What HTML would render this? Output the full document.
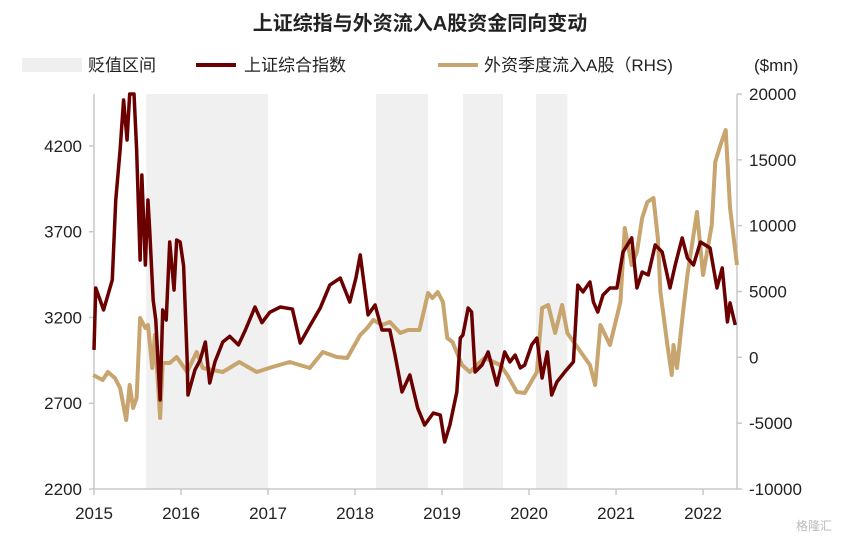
<!DOCTYPE html>
<html><head><meta charset="utf-8"><style>
body{margin:0;background:#fff;width:841px;height:542px;overflow:hidden}
svg{font-family:"Liberation Sans","Noto Sans CJK SC",sans-serif}
</style></head><body>
<svg id="c" width="841" height="542">
<text x="420" y="30" text-anchor="middle" font-size="20" font-weight="bold" fill="#222">上证综指与外资流入A股资金同向变动</text>
<g>
<rect x="22" y="58" width="60" height="14" fill="#efefef"/>
<text x="88" y="71" font-size="17" fill="#222">贬值区间</text>
<line x1="196" y1="65" x2="236" y2="65" stroke="#6b0000" stroke-width="4"/>
<text x="244" y="71" font-size="17" fill="#222">上证综合指数</text>
<line x1="438" y1="65" x2="478" y2="65" stroke="#c8a46e" stroke-width="4"/>
<text x="484" y="71" font-size="17" fill="#222">外资季度流入A股（RHS)</text>
<text x="754" y="71" font-size="17" fill="#222">($mn)</text>
</g>
<g id="plot"></g>
<text x="832" y="530" text-anchor="end" font-size="12" fill="#bbb">格隆汇</text>
</svg>
<script>
const shadeStarts=[2015.6,2018.24,2019.24,2020.08];
const shadeEnds=[2017.0,2018.84,2019.7,2020.44];
const leftTicks=[2200,2700,3200,3700,4200];
const rightTicks=[-10000,-5000,0,5000,10000,15000,20000];
const yearTicks=[2015,2016,2017,2018,2019,2020,2021,2022];
const idxDates=[2015.00,2015.02,2015.07,2015.11,2015.16,2015.21,2015.25,2015.30,2015.34,2015.38,2015.41,2015.46,2015.49,2015.53,2015.55,2015.59,2015.62,2015.64,2015.68,2015.71,2015.76,2015.79,2015.83,2015.87,2015.92,2015.95,2015.99,2016.03,2016.07,2016.08,2016.16,2016.22,2016.28,2016.33,2016.39,2016.48,2016.56,2016.66,2016.74,2016.85,2016.93,2017.02,2017.14,2017.28,2017.37,2017.48,2017.60,2017.71,2017.83,2017.94,2018.01,2018.06,2018.15,2018.23,2018.31,2018.40,2018.46,2018.54,2018.63,2018.72,2018.80,2018.90,2018.98,2019.03,2019.09,2019.17,2019.21,2019.24,2019.30,2019.34,2019.38,2019.46,2019.53,2019.63,2019.72,2019.78,2019.84,2019.90,2019.95,2020.03,2020.09,2020.15,2020.21,2020.26,2020.32,2020.41,2020.51,2020.56,2020.62,2020.70,2020.74,2020.79,2020.85,2020.93,2021.01,2021.08,2021.18,2021.24,2021.30,2021.37,2021.45,2021.53,2021.62,2021.68,2021.76,2021.82,2021.89,2021.97,2022.08,2022.16,2022.22,2022.28,2022.31,2022.37];
const idxValues=[3011,3372,3302,3244,3331,3419,3885,4177,4468,4235,4503,4503,4177,3535,4031,3506,3885,3710,3302,3185,2719,3244,3185,3640,3360,3652,3640,3500,2964,2748,2894,2952,3057,2818,2941,3057,3090,3040,3127,3261,3170,3230,3261,3249,3051,3150,3255,3389,3430,3290,3430,3565,3215,3273,3127,3127,2981,2766,2865,2672,2573,2643,2631,2474,2573,2766,3080,3098,3255,3232,2882,2923,2999,2806,2999,2941,2981,2906,2923,3040,3080,2847,2999,2748,2824,2882,2941,3389,3349,3407,3290,3232,3331,3372,3372,3582,3664,3372,3465,3448,3623,3582,3372,3506,3664,3547,3506,3640,3605,3372,3489,3174,3285,3156];
const flowDates=[2014.99,2015.10,2015.16,2015.24,2015.30,2015.37,2015.41,2015.45,2015.49,2015.53,2015.59,2015.62,2015.67,2015.70,2015.76,2015.79,2015.87,2015.95,2016.07,2016.18,2016.25,2016.36,2016.48,2016.67,2016.87,2017.05,2017.25,2017.48,2017.63,2017.79,2017.91,2018.06,2018.14,2018.21,2018.31,2018.40,2018.52,2018.61,2018.74,2018.84,2018.89,2018.95,2019.01,2019.06,2019.12,2019.23,2019.32,2019.40,2019.49,2019.67,2019.75,2019.86,2019.95,2020.09,2020.15,2020.22,2020.30,2020.38,2020.44,2020.70,2020.76,2020.82,2020.93,2021.05,2021.10,2021.18,2021.24,2021.30,2021.36,2021.43,2021.48,2021.51,2021.59,2021.64,2021.66,2021.70,2021.77,2021.82,2021.89,2021.93,2022.00,2022.10,2022.14,2022.20,2022.26,2022.31,2022.39];
const flowValues=[-1342,-1721,-1114,-1570,-2329,-4759,-2101,-3848,-3089,2987,2228,2456,-810,1696,-4608,-430,-430,26,-1114,405,-810,-962,-1114,-354,-1114,-734,-354,-810,405,26,-50,1696,2228,2836,2456,2684,1848,2076,2076,4886,4506,4962,4203,1468,1165,-582,-1114,-582,-50,-582,-1342,-2633,-2709,-1114,3747,3975,1848,3975,1848,-582,-2101,2456,937,4203,9823,7013,8000,10582,11797,12101,9063,4962,937,-1342,937,-810,3443,6253,9291,11038,6253,10051,14835,16127,17266,11342,7013];

const X0=94,X1=737,YT=94,YB=489;
const xs=d=>X0+(d-2015)*(X1-X0)/(2022.39-2015);
const yl=v=>YB-(v-2200)*(YB-YT)/(4503-2200);
const yr=v=>YB-(v+10000)*(YB-YT)/30000;
const NS='http://www.w3.org/2000/svg';
const plot=document.getElementById('plot');
function mk(tag,attrs){const e=document.createElementNS(NS,tag);for(const k in attrs)e.setAttribute(k,attrs[k]);plot.appendChild(e);return e;}
shadeStarts.forEach((s,i)=>{
  const r=mk('rect',{x:xs(s),y:YT,width:xs(shadeEnds[i])-xs(s),height:YB-YT,fill:'#f0f0f0'});
  
  
});
const ax=mk('path',{d:`M${X0},${YT}V${YB}H${X1}V${YT}`,fill:'none',stroke:'#c8c8c8','stroke-width':1.5});


leftTicks.forEach(t=>{
  mk('line',{x1:X0-5,x2:X0,y1:yl(t),y2:yl(t),stroke:'#c8c8c8','stroke-width':1.5});
  const tx=mk('text',{x:X0-12,y:yl(t)+6,'text-anchor':'end','font-size':17,fill:'#222'});
  tx.textContent=t;
  
  
});
rightTicks.forEach(t=>{
  mk('line',{x1:X1,x2:X1+5,y1:yr(t),y2:yr(t),stroke:'#c8c8c8','stroke-width':1.5});
  const tx=mk('text',{x:X1+12,y:yr(t)+6,'font-size':17,fill:'#222'});
  tx.textContent=t;
  
  
});
yearTicks.forEach(t=>{
  mk('line',{x1:xs(t),x2:xs(t),y1:YB,y2:YB+6,stroke:'#c8c8c8','stroke-width':1.5});
  const tx=mk('text',{x:xs(t),y:YB+30,'text-anchor':'middle','font-size':17,fill:'#222'});
  tx.textContent=t;
  
  
});
const fl=mk('polyline',{points:flowDates.map((d,i)=>xs(d)+','+yr(flowValues[i])).join(' '),fill:'none',stroke:'#c8a46e','stroke-width':4,'stroke-linejoin':'round'});


const il=mk('polyline',{points:idxDates.map((d,i)=>xs(d)+','+yl(idxValues[i])).join(' '),fill:'none',stroke:'#6b0000','stroke-width':3.5,'stroke-linejoin':'round'});


</script>
</body></html>
